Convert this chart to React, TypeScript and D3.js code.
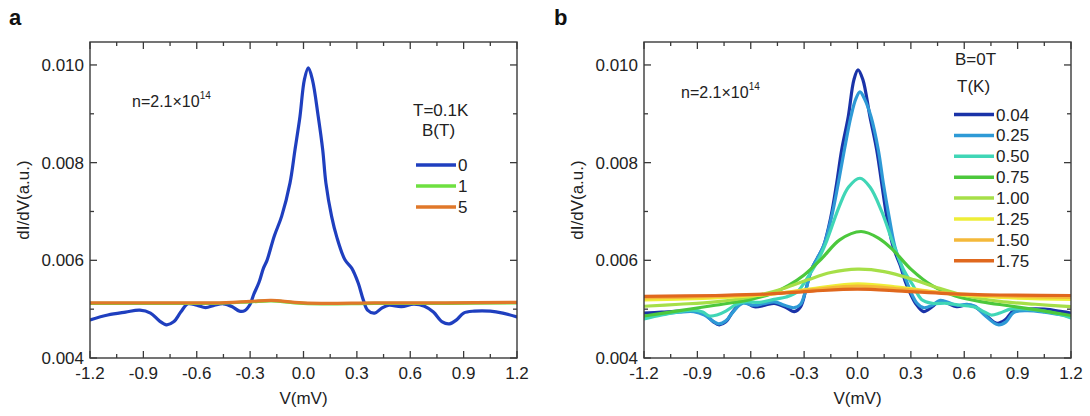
import React from "react";
import * as d3 from "d3";

// ---------- data ----------
const xTickValues = [-1.2, -0.9, -0.6, -0.3, 0.0, 0.3, 0.6, 0.9, 1.2];
const yTickValues = [0.004, 0.006, 0.008, 0.01];
const xDomain = [-1.2, 1.2];
const yDomain = [0.004, 0.01047];

// Panel a: T = 0.1 K, varying B (T)
const aLabels = ["0", "1", "5"];
const aB0: [number, number][] = [
  [-1.2, 0.00478], [-1.1, 0.00488], [-1.0, 0.00494], [-0.92, 0.00498], [-0.86, 0.00492],
  [-0.81, 0.00476], [-0.77, 0.00468], [-0.73, 0.00474], [-0.69, 0.00494], [-0.65, 0.00511],
  [-0.6, 0.00508], [-0.55, 0.00503], [-0.5, 0.00508], [-0.45, 0.00511], [-0.4, 0.00505],
  [-0.36, 0.00496], [-0.33, 0.00497], [-0.3, 0.0051], [-0.28, 0.0053], [-0.25, 0.00555],
  [-0.225, 0.00584], [-0.205, 0.006], [-0.165, 0.00649], [-0.123, 0.0069], [-0.076, 0.00758],
  [-0.048, 0.00826], [-0.02, 0.00894], [0.005, 0.0097], [0.027, 0.00994], [0.05, 0.0097],
  [0.083, 0.00894], [0.108, 0.00826], [0.126, 0.00758], [0.158, 0.0069], [0.186, 0.00649],
  [0.233, 0.00601], [0.271, 0.00584], [0.308, 0.00553], [0.336, 0.00519], [0.36, 0.00498],
  [0.4, 0.00492], [0.44, 0.00502], [0.48, 0.00508], [0.55, 0.00505], [0.62, 0.0051],
  [0.68, 0.00506], [0.73, 0.00494], [0.78, 0.00474], [0.82, 0.0047], [0.86, 0.00478],
  [0.9, 0.00492], [0.96, 0.00496], [1.05, 0.00496], [1.12, 0.00492], [1.2, 0.00484],
];
const aB1: [number, number][] = [
  [-1.2, 0.00512], [-0.8, 0.00512], [-0.5, 0.00512], [-0.3, 0.00515], [-0.18, 0.00517],
  [-0.05, 0.00513], [0.1, 0.00511], [0.4, 0.00512], [0.8, 0.00512], [1.2, 0.00513],
];
const aB5: [number, number][] = [
  [-1.2, 0.00513], [-0.8, 0.00513], [-0.5, 0.00513], [-0.3, 0.00516], [-0.18, 0.00518],
  [-0.05, 0.00514], [0.1, 0.00512], [0.4, 0.00513], [0.8, 0.00513], [1.2, 0.00514],
];

// Panel b: B = 0 T, varying T (K)
const bLabels = ["0.04", "0.25", "0.50", "0.75", "1.00", "1.25", "1.50", "1.75"];
const bT004: [number, number][] = [
  [-1.2, 0.00492], [-1.1, 0.00494], [-1.0, 0.00496], [-0.92, 0.00497], [-0.86, 0.0049],
  [-0.81, 0.00474], [-0.777, 0.00468], [-0.74, 0.00474], [-0.7, 0.00495], [-0.645, 0.00515],
  [-0.58, 0.00505], [-0.52, 0.00508], [-0.468, 0.00512], [-0.41, 0.00505], [-0.355, 0.00495],
  [-0.32, 0.00505], [-0.29, 0.0054], [-0.26, 0.0058], [-0.225, 0.00605], [-0.192, 0.00628],
  [-0.149, 0.0069], [-0.117, 0.00758], [-0.089, 0.00826], [-0.052, 0.00894], [-0.02, 0.0097],
  [0.003, 0.0099], [0.03, 0.0097], [0.07, 0.00894], [0.108, 0.00826], [0.136, 0.00758],
  [0.164, 0.0069], [0.2, 0.00628], [0.24, 0.0059], [0.27, 0.00555], [0.296, 0.00533],
  [0.33, 0.0051], [0.371, 0.00495], [0.42, 0.00505], [0.465, 0.00517], [0.558, 0.00505],
  [0.615, 0.00509], [0.66, 0.00505], [0.72, 0.00488], [0.783, 0.00471], [0.83, 0.00478],
  [0.877, 0.00497], [0.95, 0.005], [1.05, 0.005], [1.15, 0.00495], [1.2, 0.00492],
];
const bT025: [number, number][] = [
  [-1.2, 0.00484], [-1.1, 0.0049], [-1.0, 0.00494], [-0.92, 0.00495], [-0.86, 0.00488],
  [-0.81, 0.00475], [-0.78, 0.0047], [-0.74, 0.00476], [-0.7, 0.00494], [-0.645, 0.00512],
  [-0.58, 0.00508], [-0.52, 0.00512], [-0.468, 0.00515], [-0.41, 0.00508], [-0.355, 0.00503],
  [-0.32, 0.0051], [-0.29, 0.0054], [-0.26, 0.0058], [-0.225, 0.00605], [-0.19, 0.0063],
  [-0.145, 0.0069], [-0.108, 0.00758], [-0.074, 0.00826], [-0.037, 0.00894], [-0.01, 0.0093],
  [0.014, 0.00945], [0.04, 0.0093], [0.076, 0.00894], [0.117, 0.00826], [0.145, 0.00758],
  [0.177, 0.0069], [0.21, 0.00628], [0.245, 0.0059], [0.275, 0.00558], [0.3, 0.00535],
  [0.335, 0.00512], [0.371, 0.00503], [0.42, 0.00508], [0.465, 0.00518], [0.558, 0.00508],
  [0.615, 0.0051], [0.66, 0.00506], [0.72, 0.00486], [0.79, 0.00468], [0.835, 0.00474],
  [0.877, 0.00493], [0.95, 0.00497], [1.05, 0.00494], [1.15, 0.00488], [1.2, 0.00484],
];
const bT050: [number, number][] = [
  [-1.2, 0.0048], [-1.1, 0.00488], [-1.0, 0.00495], [-0.92, 0.00498], [-0.87, 0.00494],
  [-0.832, 0.00486], [-0.79, 0.00488], [-0.74, 0.00496], [-0.68, 0.0051], [-0.63, 0.00515],
  [-0.55, 0.00514], [-0.47, 0.0052], [-0.4, 0.00525], [-0.34, 0.00535], [-0.28, 0.00565],
  [-0.222, 0.006], [-0.173, 0.0064], [-0.103, 0.0071], [-0.05, 0.0075], [0.014, 0.00768],
  [0.07, 0.0075], [0.136, 0.007], [0.2, 0.00635], [0.26, 0.0058], [0.31, 0.0055],
  [0.36, 0.0052], [0.42, 0.00512], [0.5, 0.00512], [0.58, 0.00508], [0.66, 0.00504],
  [0.71, 0.00495], [0.75, 0.00488], [0.8, 0.00492], [0.86, 0.005], [0.95, 0.005],
  [1.05, 0.00496], [1.15, 0.00488], [1.2, 0.00482],
];
const bT075: [number, number][] = [
  [-1.2, 0.00486], [-1.0, 0.00497], [-0.8, 0.00508], [-0.6, 0.0052], [-0.48, 0.00532],
  [-0.39, 0.00548], [-0.3, 0.0057], [-0.2, 0.00604], [-0.1, 0.00642], [0.02, 0.00659],
  [0.12, 0.00645], [0.2, 0.00621], [0.3, 0.00582], [0.42, 0.00548], [0.55, 0.00527],
  [0.7, 0.00515], [0.85, 0.00507], [1.0, 0.00499], [1.1, 0.00493], [1.2, 0.00487],
];
const bT100: [number, number][] = [
  [-1.2, 0.00506], [-1.0, 0.0051], [-0.8, 0.00515], [-0.6, 0.00525], [-0.41, 0.00543],
  [-0.28, 0.0056], [-0.15, 0.00575], [0.0, 0.00582], [0.15, 0.00577], [0.32, 0.0056],
  [0.44, 0.00545], [0.6, 0.00528], [0.8, 0.00516], [1.0, 0.0051], [1.2, 0.00505],
];
const bT125: [number, number][] = [
  [-1.2, 0.00519], [-0.8, 0.00523], [-0.5, 0.0053], [-0.25, 0.00542], [0.0, 0.00552],
  [0.25, 0.00544], [0.5, 0.00532], [0.8, 0.00524], [1.2, 0.0052],
];
const bT150: [number, number][] = [
  [-1.2, 0.00523], [-0.8, 0.00526], [-0.5, 0.00531], [-0.25, 0.0054], [0.0, 0.00547],
  [0.25, 0.00541], [0.5, 0.00533], [0.8, 0.00527], [1.2, 0.00524],
];
const bT175: [number, number][] = [
  [-1.2, 0.00526], [-0.8, 0.00528], [-0.5, 0.00531], [-0.25, 0.00537], [0.0, 0.00541],
  [0.25, 0.00537], [0.5, 0.00532], [0.8, 0.00529], [1.2, 0.00528],
];

const aColors = ["#1f3fbf", "#6ee040", "#e0782a"];
const bColors = ["#1a33a8", "#2e9ad6", "#40d6b6", "#4cc83c", "#a6df48", "#eeee38", "#f4b93a", "#e0681e"];

const FONT = "'Liberation Sans', Arial, Helvetica, sans-serif";
const TOP = 42;
const BOTTOM = 358;

type Series = { label: string; color: string; data: [number, number][] };

function Panel(props: {
  x0: number; x1: number; letter: string; letterX: number;
  annX: number; annY: number;
  series: Series[];
  legendTitles: { text: string; x: number; y: number }[];
  legendX: number; legendY0: number; legendStep: number;
}) {
  const { x0, x1, series } = props;
  const x = d3.scaleLinear().domain(xDomain).range([x0, x1]);
  const y = d3.scaleLinear().domain(yDomain).range([BOTTOM, TOP]);
  const line = d3
    .line<[number, number]>()
    .x((d) => x(d[0]))
    .y((d) => y(d[1]))
    .curve(d3.curveCatmullRom.alpha(0.5));

  const xMinor = d3.range(-1.2, 1.2001, 0.15).map((v) => +v.toFixed(2));
  const yMinor = d3.range(0.004, 0.0105, 0.001).map((v) => +v.toFixed(4));
  const frame = "#3a3a3a";
  const MAJ = 7;
  const MIN = 4;

  return (
    <g>
      <text x={props.letterX} y={25} fontFamily={FONT} fontWeight="bold" fontSize={22} fill="#111">
        {props.letter}
      </text>
      <clipPath id={"clip" + props.letter}>
        <rect x={x0} y={TOP} width={x1 - x0} height={BOTTOM - TOP} />
      </clipPath>
      <g clipPath={`url(#clip${props.letter})`}>
        {series.map((s) => (
          <path key={s.label} d={line(s.data) || ""} fill="none" stroke={s.color} strokeWidth={3.2}
            strokeLinejoin="round" strokeLinecap="round" />
        ))}
      </g>
      {/* frame */}
      <rect x={x0} y={TOP} width={x1 - x0} height={BOTTOM - TOP} fill="none" stroke={frame} strokeWidth={1.4} />
      {/* x ticks */}
      {xMinor.map((v, i) => {
        const len = i % 2 === 0 ? MAJ : MIN;
        const px = x(v);
        return (
          <g key={"xt" + i}>
            <line x1={px} x2={px} y1={BOTTOM} y2={BOTTOM - len} stroke={frame} strokeWidth={1.3} />
            <line x1={px} x2={px} y1={TOP} y2={TOP + len} stroke={frame} strokeWidth={1.3} />
          </g>
        );
      })}
      {yMinor.map((v, i) => {
        const len = i % 2 === 0 ? MAJ : MIN;
        const py = y(v);
        return (
          <g key={"yt" + i}>
            <line x1={x0} x2={x0 + len} y1={py} y2={py} stroke={frame} strokeWidth={1.3} />
            <line x1={x1} x2={x1 - len} y1={py} y2={py} stroke={frame} strokeWidth={1.3} />
          </g>
        );
      })}
      {xTickValues.map((v) => (
        <text key={"xl" + v} x={x(v)} y={379} textAnchor="middle" fontFamily={FONT} fontSize={17} fill="#222">
          {v.toFixed(1)}
        </text>
      ))}
      {yTickValues.map((v) => (
        <text key={"yl" + v} x={x0 - 6} y={y(v) + 6} textAnchor="end" fontFamily={FONT} fontSize={17} fill="#222">
          {v.toFixed(3)}
        </text>
      ))}
      <text x={(x0 + x1) / 2} y={404} textAnchor="middle" fontFamily={FONT} fontSize={17} fill="#222">
        V(mV)
      </text>
      <text transform={`translate(${x0 - 61},200) rotate(-90)`} textAnchor="middle" fontFamily={FONT} fontSize={17} fill="#222">
        dI/dV(a.u.)
      </text>
      <text x={props.annX} y={props.annY} fontFamily={FONT} fontSize={16} fill="#222">
        n=2.1×10<tspan fontSize={10} dy={-8}>14</tspan>
      </text>
      {props.legendTitles.map((t) => (
        <text key={t.text} x={t.x} y={t.y} fontFamily={FONT} fontSize={17} fill="#222">
          {t.text}
        </text>
      ))}
      {series.map((s, i) => {
        const ly = props.legendY0 + i * props.legendStep;
        return (
          <g key={"lg" + s.label}>
            <line x1={props.legendX} x2={props.legendX + 40} y1={ly} y2={ly} stroke={s.color} strokeWidth={3.5} />
            <text x={props.legendX + 42} y={ly + 6} fontFamily={FONT} fontSize={17} fill="#222">
              {s.label}
            </text>
          </g>
        );
      })}
    </g>
  );
}

export default function App() {
  const aSeries: Series[] = [aB0, aB1, aB5].map((d, i) => ({ label: aLabels[i], color: aColors[i], data: d }));
  const bSeries: Series[] = [bT004, bT025, bT050, bT075, bT100, bT125, bT150, bT175].map((d, i) => ({
    label: bLabels[i], color: bColors[i], data: d,
  }));
  return (
    <svg width={1090} height={416} style={{ position: "absolute", left: 0, top: 0, background: "#fff" }}>
      <rect width={1090} height={416} fill="#fff" />
      <Panel x0={90} x1={517} letter="a" letterX={9} annX={132} annY={107}
        series={aSeries}
        legendTitles={[{ text: "T=0.1K", x: 413, y: 116 }, { text: "B(T)", x: 422, y: 136 }]}
        legendX={416} legendY0={165} legendStep={21} />
      <Panel x0={644} x1={1071} letter="b" letterX={554} annX={681} annY={98}
        series={bSeries}
        legendTitles={[{ text: "B=0T", x: 955, y: 65 }, { text: "T(K)", x: 957, y: 92 }]}
        legendX={954} legendY0={114.5} legendStep={20.9} />
    </svg>
  );
}
